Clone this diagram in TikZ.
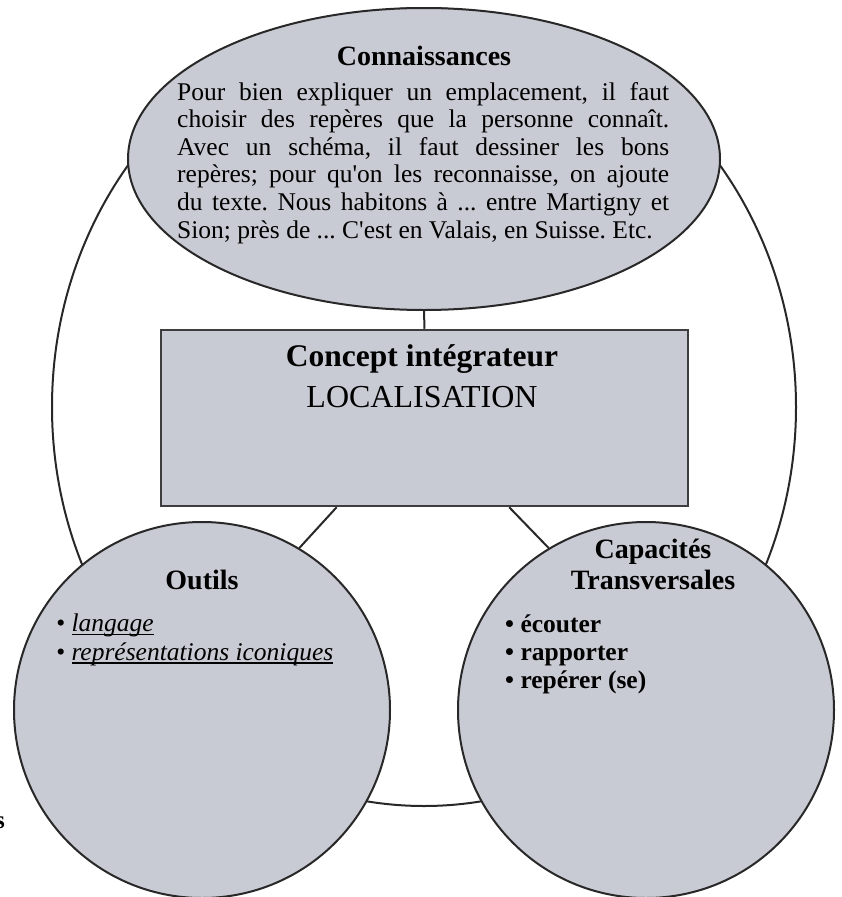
\documentclass[tikz,border=0pt]{standalone}
\usepackage{fontspec}
\setmainfont{Liberation Serif}[Ligatures=TeXOff]
\usetikzlibrary{shapes.geometric,calc}
\definecolor{gris}{RGB}{200,203,211}
\definecolor{trait}{RGB}{40,40,40}
\newcommand\souligne[1]{\setbox0\hbox{#1}\rlap{\rule[-3.5pt]{\wd0}{1.5pt}}\box0}
\frenchspacing
\tikzset{
	bulle/.style={draw=trait,line width=2pt,fill=gris,inner sep=0pt},
	titre/.style={font=\bfseries\fontsize{28}{31}\selectfont,anchor=base,inner sep=0pt},
	liste/.style={anchor=base west,inner sep=0pt,align=left},
}

\begin{document}
\begin{tikzpicture}[x=1pt,y=-1pt]
				  \useasboundingbox (0,0) rectangle (841,897);
				  %GRANDE ELLIPSE
				  \draw[trait,line width=2pt] (424,407) ellipse [x radius=372,y radius=399];
				  %BULLES
				  \node[bulle,ellipse,minimum width=592pt,minimum height=302pt](C) at (424,159) {};
				  \node[bulle,rectangle,draw=trait!90,line width=2.5pt,minimum width=527pt,minimum height=176pt](I) at (424.5,418) {};
				  \node[bulle,circle,minimum size=376pt](O) at (202,710) {};
				  \node[bulle,circle,minimum size=376pt](T) at (646,710) {};
				  %LIENS
				  \coordinate (I1) at ($(I.south west)!0.334!(I.south east)$);
				  \coordinate (I2) at ($(I.south west)!0.66!(I.south east)$);
				  \draw[trait,line width=2pt] (C.south) -- (I.north)
					(I1) -- (O.59) (I2) -- (T.121);
				  %TEXTES
				  \node[titre](Ct) at (424,65) {Connaissances};
				  \node[anchor=base west,inner sep=0pt,text width=492pt,align=justify,
					font=\fontsize{25.5}{27.6}\selectfont](Cx) at (177,100)
					{Pour bien expliquer un emplacement, il faut\linebreak
					choisir des repères que la personne connaît.\linebreak
					Avec un schéma, il faut dessiner les bons\linebreak
					repères; pour qu'on les reconnaisse, on ajoute\linebreak
					du texte. Nous habitons à ... entre Martigny et\linebreak
					Sion; près de ... C'est en Valais, en Suisse. Etc.};
				  \node[titre,font=\bfseries\fontsize{31.5}{34}\selectfont](It) at (422,366) {Concept intégrateur};
				  \node[anchor=base,inner sep=0pt,font=\fontsize{32}{34}\selectfont](Il) at (422,407) {LOCALISATION};
				  \node[titre](Ot) at (202,589) {Outils};
				  %base = derniere ligne
				  \node[liste,font=\itshape\fontsize{25.5}{28.5}\selectfont](Ol) at (56,660)
					{• \souligne{langage}\\ • \souligne{représentations iconiques}};
				  \node[titre](Tt) at (653,558) {Capacités};
				  \node[titre](Tv) at (653,589) {Transversales};
				  \node[liste,font=\bfseries\fontsize{25.5}{28}\selectfont](Tl) at (505,688)
					{• écouter\\ • rapporter\\ • repérer (se)};
				  \node[anchor=base west,inner sep=0pt,font=\bfseries\fontsize{25}{28}\selectfont](s) at (-5,828) {s};
\end{tikzpicture}
\end{document}
